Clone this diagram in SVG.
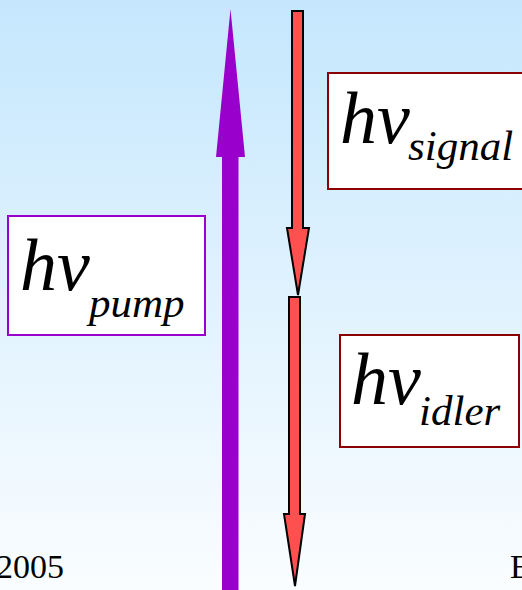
<svg xmlns="http://www.w3.org/2000/svg" width="522" height="590" viewBox="0 0 522 590">
<defs>
<linearGradient id="bg" x1="0" y1="0" x2="0" y2="1">
<stop offset="0" stop-color="#c5e7fd"/>
<stop offset="1" stop-color="#fafdff"/>
</linearGradient>
<style>
.t{font-family:"Liberation Serif","Times New Roman",serif;font-style:italic;fill:#000}
.big{font-size:74px}
.sub{font-size:43px}
.foot{font-family:"Liberation Serif","Times New Roman",serif;font-size:34px;fill:#000}
.red{fill:#ff5050;stroke:#000;stroke-width:2;stroke-linejoin:miter}
.box{fill:#fff;stroke-width:2}
</style>
</defs>
<rect width="522" height="590" fill="url(#bg)"/>
<g id="connectors">
<polygon id="pump-arrow" points="230.5,9 245,157 238.5,157 238.5,590 222,590 222,157 216,157" fill="#9900cc"/>
<polygon id="signal-arrow" class="red" points="292,11 303,11 303,228 309,228 298,295 287,228 292,228"/>
<polygon id="idler-arrow" class="red" points="289,297 300,297 300,514 305,514 295,586 284,514 289,514"/>
</g>
<g id="pump">
<rect class="box" x="8" y="216" width="197" height="119" stroke="#9900cc"/>
<text class="t big" x="20" y="290">hv</text>
<text class="t sub" x="89" y="317">pump</text>
</g>
<g id="signal">
<rect class="box" x="328" y="73" width="196" height="116" stroke="#8b0000"/>
<text class="t big" x="340" y="143">hv</text>
<text class="t sub" x="408" y="160">signal</text>
</g>
<g id="idler">
<rect class="box" x="340" y="335" width="179" height="112" stroke="#8b0000"/>
<text class="t big" x="351" y="404">hv</text>
<text class="t sub" x="419" y="425">idler</text>
</g>
<text class="foot" x="-4" y="578">2005</text>
<text class="foot" x="510" y="578">E</text>
</svg>
